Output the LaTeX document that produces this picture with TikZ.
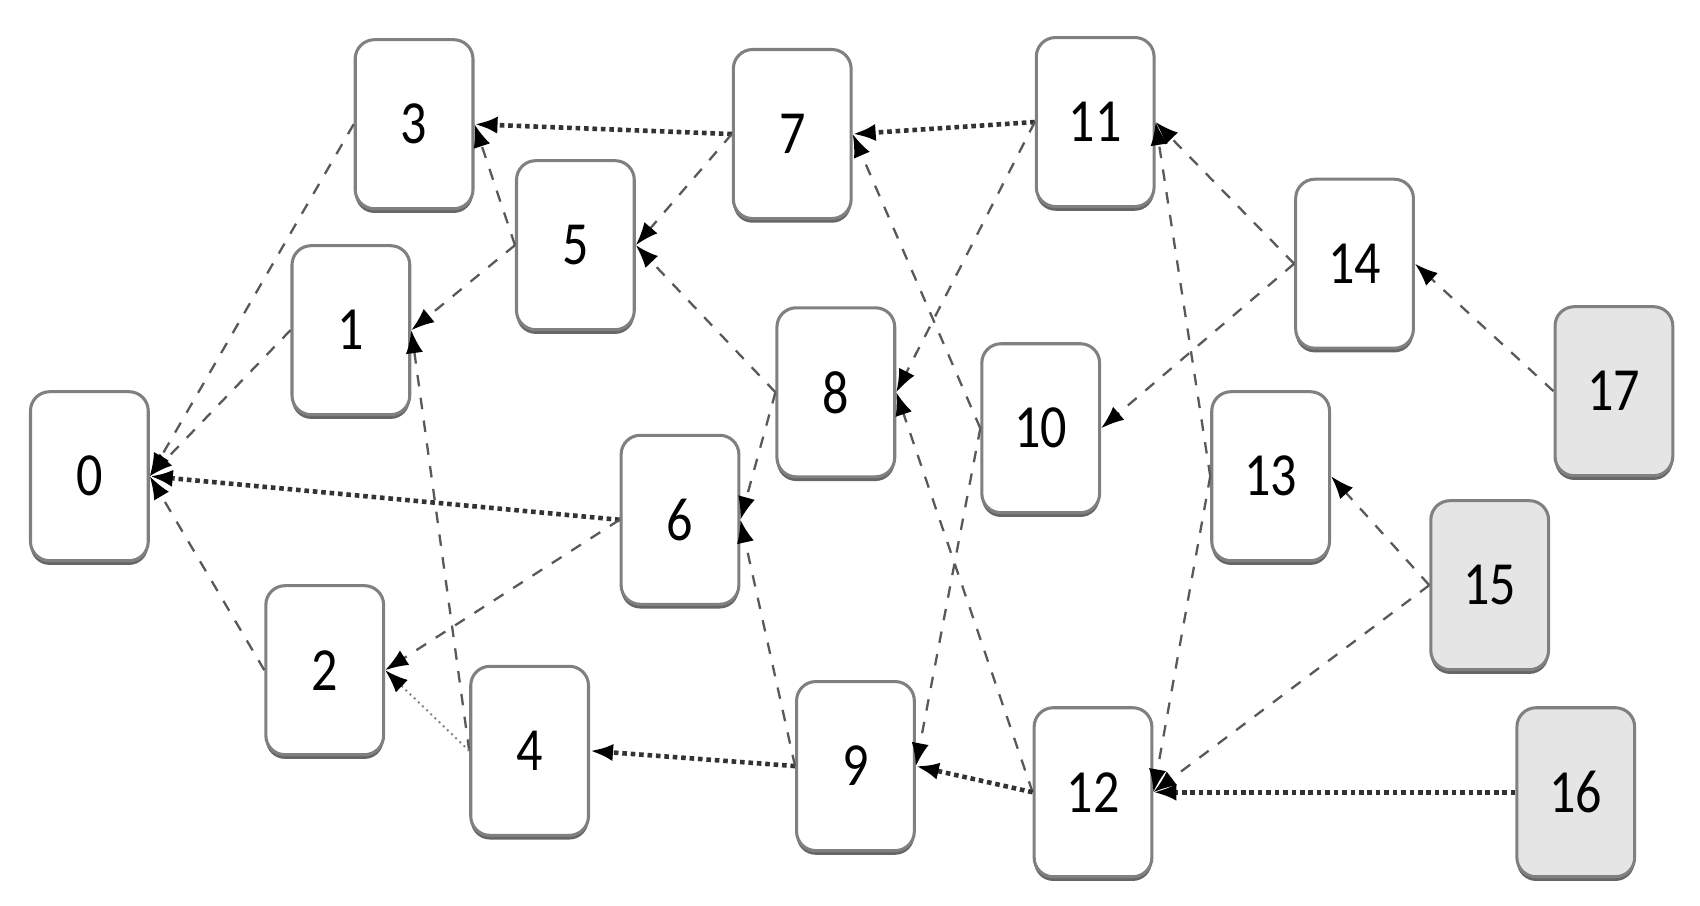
\documentclass[tikz,border=0pt]{standalone}
\usepackage{fontspec}
\setmainfont{Carlito}[FakeStretch=0.85]
\usetikzlibrary{arrows.meta,shadows}
\begin{document}
\begin{tikzpicture}[x=0.01cm,y=-0.01cm,
  box/.style={draw=black!50, line width=0.8pt, rounded corners=5pt, fill=white,
    minimum width=1.08cm, minimum height=1.55cm, inner sep=0pt,
    font=\fontsize{16}{19}\selectfont,
    drop shadow={shadow xshift=0pt, shadow yshift=-1.1pt, fill=black, opacity=0.6}},
  srcbox/.style={box, fill=black!10},
  dashedge/.style={draw=black!65, dashed, line width=0.6pt,
    -{Latex[length=6pt,width=4.5pt,fill=black,color=black]}},
  dotedge/.style={draw=black!80, densely dotted, line width=1.2pt,
    -{Latex[length=6pt,width=4.5pt,fill=black,color=black]}},
  thinedge/.style={draw=black!50, densely dotted, line width=0.5pt,
    -{Latex[length=6pt,width=4.5pt,fill=black,color=black]}}
]
\useasboundingbox (0,0) rectangle (1560,831);
\node[box] (n0) at (82,437) {0};
\node[box] (n3) at (380,114) {3};
\node[box] (n1) at (322,303) {1};
\node[box] (n5) at (528,225) {5};
\node[box] (n7) at (727,123) {7};
\node[box] (n2) at (298,615) {2};
\node[box] (n6) at (624,477) {6};
\node[box] (n4) at (486,689) {4};
\node[box] (n8) at (767,360) {8};
\node[box] (n9) at (785,703) {9};
\node[box] (n11) at (1005,112) {11};
\node[box] (n10) at (955,393) {10};
\node[box] (n12) at (1003,727) {12};
\node[box] (n13) at (1166,437) {13};
\node[box] (n14) at (1243,242) {14};
\node[srcbox] (n17) at (1481,359) {17};
\node[srcbox] (n15) at (1367,537) {15};
\node[srcbox] (n16) at (1446,727) {16};

% edges into 0
\draw[dashedge] (n3.west) -- (n0.east);
\draw[dashedge] (n1.west) -- (n0.east);
\draw[dotedge] (n6.west) -- (n0.east);
\draw[dashedge] (n2.west) -- (n0.east);
% into 3
\draw[dotedge] (n7.west) -- (n3.east);
\draw[dashedge] (n5.west) -- (n3.east);
% into 5
\draw[dashedge] (n7.west) -- (n5.east);
\draw[dashedge] (n8.west) -- (n5.east);
% into 1
\draw[dashedge] (n5.west) -- (n1.east);
\draw[dashedge] (n4.west) -- (n1.east);
% into 2
\draw[dashedge] (n6.west) -- (n2.east);
\draw[thinedge] (n4.west) -- (n2.east);
% into 4
\draw[dotedge] (n9.west) -- (n4.east);
% into 6
\draw[dashedge] (n9.west) -- (n6.east);
\draw[dashedge] (n8.west) -- (n6.east);
% into 7
\draw[dotedge] (n11.west) -- (n7.east);
\draw[dashedge] (n10.west) -- (n7.east);
% into 8
\draw[dashedge] (n11.west) -- (n8.east);
\draw[dashedge] (n12.west) -- (n8.east);
% into 9
\draw[dashedge] (n10.west) -- (n9.east);
\draw[dotedge] (n12.west) -- (n9.east);
% into 11
\draw[dashedge] (n13.west) -- (n11.east);
\draw[dashedge] (n14.west) -- (n11.east);
% into 10
\draw[dashedge] (n14.west) -- (n10.east);
% into 12
\draw[dashedge] (n13.west) -- (n12.east);
\draw[dashedge] (n15.west) -- (n12.east);
\draw[dotedge] (n16.west) -- (n12.east);
% into 13, 14
\draw[dashedge] (n15.west) -- (n13.east);
\draw[dashedge] (n17.west) -- (n14.east);
\end{tikzpicture}
\end{document}
